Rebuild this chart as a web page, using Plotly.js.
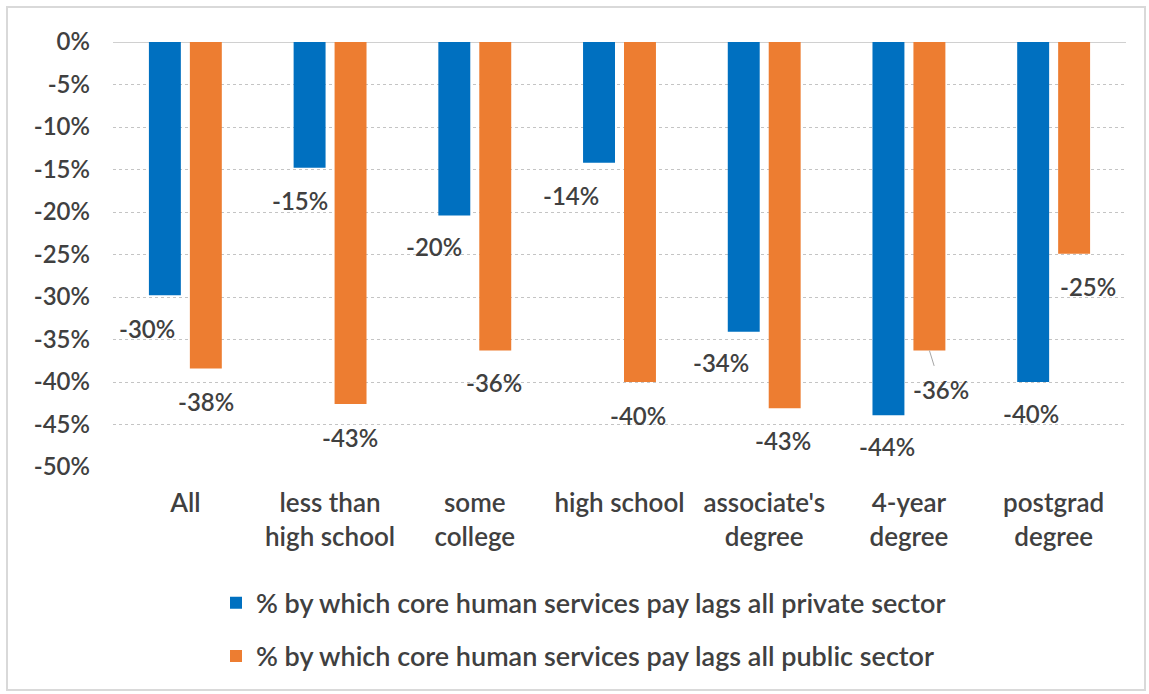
<!DOCTYPE html>
<html>
<head>
<meta charset="utf-8">
<script src="https://cdn.plot.ly/plotly-3.0.1.min.js"></script>
<style>
  html, body { margin: 0; padding: 0; background: #fff; }
  #chart { position: absolute; left: 0; top: 0; width: 1149px; height: 694px; }
  #frame { position: absolute; left: 6px; top: 6px; width: 1136px; height: 681px;
           border: 2px solid #d9d9d9; pointer-events: none; }
</style>
</head>
<body>
<div id="chart"></div>
<div id="frame"></div>
<script>
// ---- data ----
const categories = ["All", "less than<br>high school", "some<br>college", "high school",
                    "associate's<br>degree", "4-year<br>degree", "postgrad<br>degree"];
const privateLag = [-29.8, -14.8, -20.4, -14.2, -34.1, -43.9, -40.0];
const publicLag  = [-38.4, -42.6, -36.3, -40.0, -43.1, -36.3, -24.9];
const seriesNames = ["% by which core human services pay lags all private sector",
                     "% by which core human services pay lags all public sector"];
const yTickVals  = [0, -5, -10, -15, -20, -25, -30, -35, -40, -45, -50];
const yTickText  = ["0%", "-5%", "-10%", "-15%", "-20%", "-25%", "-30%", "-35%", "-40%", "-45%", "-50%"];

// ---- label placement (style) ----
const barHalfOffset = 20.5;
const privDx = [-18, -10, -20, -28, -23, -1, -2];
const privDy = [33, 33, 31, 33, 31, 31, 31];
const pubDx  = [0, -1, -1, -2, -2, 12, 14];
const pubDy  = [33, 33, 32, 33, 32, 39, 33];

const FONT = "Lato, 'Noto Sans', sans-serif";
const TXT = "#404040";
const W = 600;
const fmt = v => "-" + Math.abs(Math.round(v)) + "%";

const traces = [
  { type: "bar", x: categories, y: privateLag, name: seriesNames[0],
    marker: { color: "#0070c0" }, legendgroup: "a" },
  { type: "bar", x: categories, y: publicLag, name: seriesNames[1],
    marker: { color: "#ed7d31" }, legendgroup: "b" }
];

const annotations = [];
categories.forEach((c, i) => {
  annotations.push({ x: c, y: privateLag[i], xref: "x", yref: "y", text: fmt(privateLag[i]),
    showarrow: false, xshift: -barHalfOffset + privDx[i], yshift: -privDy[i],
    font: { family: FONT, size: 24, color: TXT, weight: W } });
  const isLeader = (i === 5);
  const a = { x: c, y: publicLag[i], xref: "x", yref: "y", text: fmt(publicLag[i]),
    font: { family: FONT, size: 24, color: TXT, weight: W } };
  if (isLeader) {
    Object.assign(a, { showarrow: true, arrowhead: 0, arrowwidth: 1, arrowcolor: "#a6a6a6",
      ax: pubDx[i], ay: pubDy[i], xshift: barHalfOffset, standoff: 0, startstandoff: 8 });
  } else {
    Object.assign(a, { showarrow: false, xshift: barHalfOffset + pubDx[i], yshift: -pubDy[i] });
  }
  annotations.push(a);
});

const layout = {
  width: 1149, height: 694,
  margin: { l: 113, r: 23, t: 42, b: 227, pad: 0 },
  paper_bgcolor: "#ffffff", plot_bgcolor: "#ffffff",
  font: { family: FONT, size: 24, color: TXT, weight: W },
  barmode: "group", bargap: 0.434, bargroupgap: 0.22,
  showlegend: true,
  legend: { orientation: "v", x: (216 - 113) / 1013, xanchor: "left", y: -0.263, yanchor: "top",
            font: { family: FONT, size: 27, color: TXT, weight: W }, tracegroupgap: 15,
            itemwidth: 30, bgcolor: "rgba(0,0,0,0)" },
  xaxis: { type: "category", showgrid: false, showline: false, zeroline: false, ticks: "",
           tickfont: { family: FONT, size: 26, color: TXT, weight: W }, ticklabelstandoff: 18 },
  yaxis: { range: [-50, 0], tickvals: yTickVals, ticktext: yTickText, showline: false,
           gridcolor: "#c4c4c4", griddash: "dot", gridwidth: 1,
           zeroline: true, zerolinecolor: "#d0d0d0", zerolinewidth: 1,
           ticks: "", ticklabelstandoff: 22,
           tickfont: { family: FONT, size: 24, color: TXT, weight: W } },
  annotations: annotations
};

Plotly.newPlot("chart", traces, layout, { staticPlot: true, displayModeBar: false });
</script>
</body>
</html>
